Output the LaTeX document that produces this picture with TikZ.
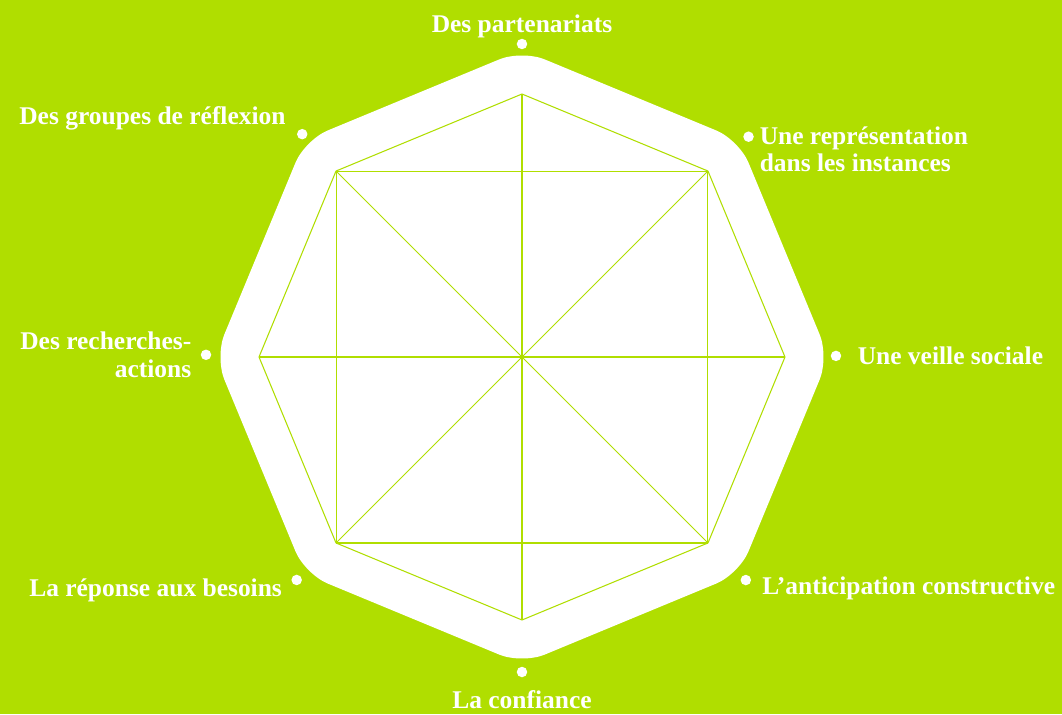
\documentclass[tikz,border=0pt]{standalone}
\usepackage{fontspec}
\setmainfont{Liberation Serif}
\usetikzlibrary{positioning}
\definecolor{leaf}{RGB}{176,222,0}

\begin{document}
\begin{tikzpicture}[x=0.02cm,y=0.02cm,% one unit is one pixel of the reference
		every node/.style={
			text=white,
			inner sep=0pt,		% labels sit close to their dots
			font=\bfseries\fontsize{14.5}{15.5}\selectfont
		},
		dot/.style={circle,fill=white,minimum size=0.21cm},
		every edge/.style={draw=leaf,line width=0.6pt}
	]
	% background
	\fill[leaf] (-522,-357) rectangle (540,357);
	\useasboundingbox (-522,-357) rectangle (540,357);
	% white octagon
	\fill[white,rounded corners=14pt] (90:307) -- (45:307) -- (0:307) -- (-45:307)
		-- (-90:307) -- (-135:307) -- (180:307) -- (135:307) -- cycle;
	% corners of the inner octagon
	\coordinate (vN) at (90:263);
	\coordinate (vNE) at (45:263);
	\coordinate (vE) at (0:263);
	\coordinate (vSE) at (-45:263);
	\coordinate (vS) at (-90:263);
	\coordinate (vSW) at (-135:263);
	\coordinate (vW) at (180:263);
	\coordinate (vNW) at (135:263);
	\path
	(vN)edge (vNE)
	(vNE)edge (vE)
	(vE)edge (vSE)
	(vSE)edge (vS)
	(vS)edge (vSW)
	(vSW)edge (vW)
	(vW)edge (vNW)
	(vNW)edge (vN)
	% square
	(vNW)edge (vNE)
	(vNE)edge (vSE)
	(vSE)edge (vSW)
	(vSW)edge (vNW)
	% diameters
	(vN)edge (vS)
	(vE)edge (vW)
	(vNE)edge (vSW)
	(vNW)edge (vSE)
	;
	% dots
	\node[dot](dN) at (90:313) {};
	\node[dot](dNE) at (44.2:316) {};
	\node[dot](dE) at (0.2:314) {};
	\node[dot](dSE) at (-44.9:316) {};
	\node[dot](dS) at (-90:315) {};
	\node[dot](dSW) at (-135.3:317) {};
	\node[dot](dW) at (179.6:316) {};
	\node[dot](dNW) at (134.6:313) {};
	% labels
	\node(lN)[above=0pt of dN]{Des partenariats};
	\node(lNE)[right=3pt of dNE,yshift=-7pt,align=left]{Une représentation\\ dans les instances};
	\node(lE)[right=9pt of dE]{Une veille sociale};
	\node(lSE)[right=6pt of dSE,yshift=-5pt]{L’anticipation constructive};
	\node(lS)[below=7pt of dS]{La confiance};
	\node(lSW)[left=5pt of dSW,yshift=-6pt]{La réponse aux besoins};
	\node(lW)[left=5pt of dW,align=right]{Des recherches-\\ actions};
	\node(lNW)[above left=0pt and 7pt of dNW]{Des groupes de réflexion};
\end{tikzpicture}
\end{document}
